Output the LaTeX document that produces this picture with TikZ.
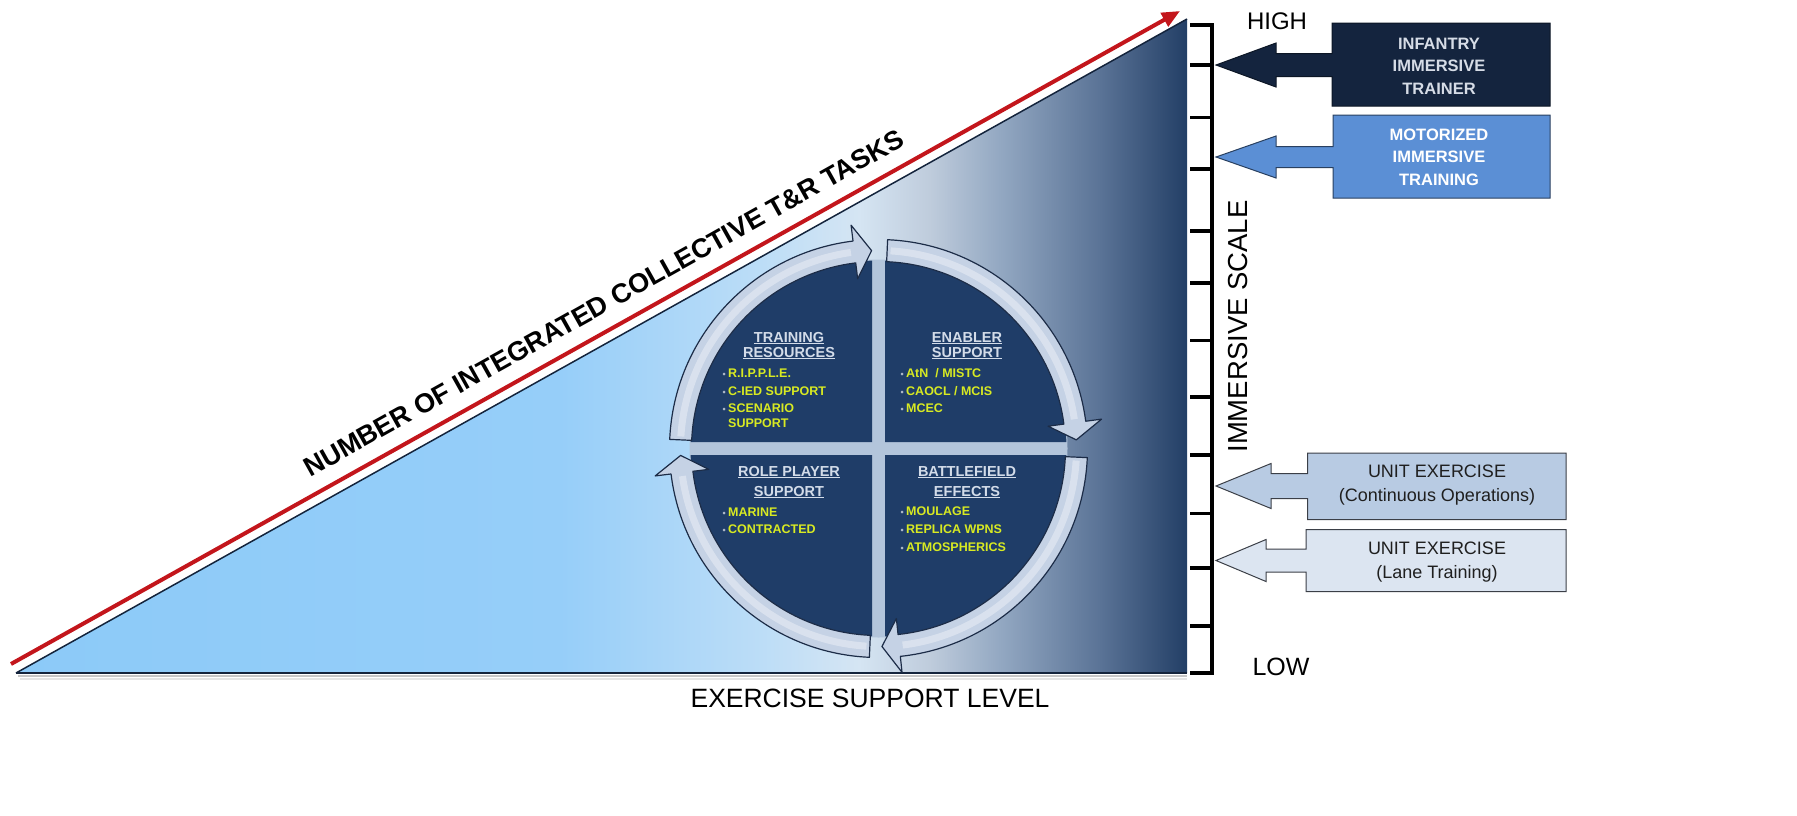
\documentclass[tikz,border=0pt]{standalone}
\usepackage{fontspec}
\setmainfont{Liberation Sans}
\usetikzlibrary{calc,arrows.meta}
\definecolor{triA}{HTML}{8CCAF8}
\definecolor{triB}{HTML}{96CEF9}
\definecolor{triC}{HTML}{BCDDF7}
\definecolor{triD}{HTML}{D5E5F3}
\definecolor{triE}{HTML}{BFCCDC}
\definecolor{triF}{HTML}{93A8C2}
\definecolor{triG}{HTML}{5A7396}
\definecolor{triH}{HTML}{233F66}
\definecolor{edgec}{HTML}{14243C}
\definecolor{redc}{HTML}{C3161C}
\definecolor{gapc}{HTML}{B3C5DB}
\definecolor{quadc}{HTML}{1F3D68}
\definecolor{bandc}{HTML}{C5D2E5}
\definecolor{bandline}{HTML}{1C2C47}
\definecolor{headc}{HTML}{D3DCE9}
\definecolor{itemc}{HTML}{D8EA22}
\definecolor{dotc}{HTML}{AEB8C8}
\definecolor{infc}{HTML}{14243E}
\definecolor{motc}{HTML}{5B8FD5}
\definecolor{contc}{HTML}{B8CBE3}
\definecolor{lanec}{HTML}{DCE5F1}
\definecolor{boxline}{HTML}{3B3F47}
\definecolor{infT}{HTML}{D6DCE6}
\pgfdeclarehorizontalshading{trishade}{100bp}{color(0bp)=(triA); color(25bp)=(triA); color(48.2bp)=(triB); color(56.8bp)=(triC); color(61bp)=(triD); color(64bp)=(triE); color(67bp)=(triF); color(71.3bp)=(triG); color(75bp)=(triH); color(100bp)=(triH)}
\newcommand\hul[1]{\setbox0=\hbox{#1}\rlap{\rule[-2.3pt]{\wd0}{1.1pt}}\box0}
\newcommand\qb{\llap{\textcolor{dotc}{\fontsize{9}{9}\selectfont\textbullet}\hspace{2.5pt}}}
\newcommand\cband[3]{%
  \filldraw[bandsty] ($(C)+(#1:209)$) arc[start angle=#1, end angle=#2, radius=209]
    -- ($(C)+(#2:225)$) -- ($(C)+(#3:198)$) -- ($(C)+(#2:171)$) -- ($(C)+(#2:187)$)
    arc[start angle=#2, end angle=#1, radius=187] -- cycle;
  \draw[white, opacity=0.35, line width=7pt] ($(C)+(#1-1:198)$) arc[start angle=#1-1, end angle=#2+1, radius=198];
}
\tikzset{
  bandsty/.style={fill=bandc, draw=bandline, line width=1.2pt, line join=round},
  qhead/.style={font=\fontsize{14.5}{14.5}\bfseries\selectfont, text=headc, inner sep=0pt, anchor=base},
  qitem/.style={font=\fontsize{12.5}{12.5}\bfseries\selectfont, text=itemc, inner sep=0pt, anchor=base west},
  boxW/.style={font=\fontsize{16.5}{22.5}\bfseries\selectfont, align=center, inner sep=0pt},
  boxD/.style={font=\fontsize{18}{23.3}\selectfont, text=black!88, align=center, inner sep=0pt},
  axlab/.style={inner sep=0pt, text=black},
  fatbox/.style={line width=1pt, line join=miter},
}
\begin{document}
\begin{tikzpicture}[x=1pt,y=1pt]
\useasboundingbox (0,0) rectangle (1797,-815);
% triangle
\coordinate (tA) at (16,-673);
\coordinate (tB) at (1187,-19);
\coordinate (tC) at (1187,-673);
\draw[black!22, line width=2pt] (18,-676) -- (1187,-676);
\draw[black!10, line width=2pt] (20,-678.5) -- (1187,-678.5);
\shade[shading=trishade] (tA) -- (tB) -- (tC) -- cycle;
\draw[edgec, line width=1.5pt] (tA) -- (tB);
\draw[edgec, line width=1.5pt] (tA) -- (tC);
% red arrow
\coordinate (rS) at (11,-664);
\coordinate (rE) at (1180,-11);
\draw[redc, line width=4pt, -{Triangle[length=18pt,width=15pt]}] (rS) -- (rE);
\node[anchor=base west, rotate=29.18, font=\fontsize{27}{27}\bfseries\selectfont, inner sep=0pt] (title) at (310,-478) {NUMBER OF INTEGRATED COLLECTIVE T\&R TASKS};
% circle
\coordinate (C) at (878.5,-448.5);
\fill[gapc] (C) circle[radius=189];
\fill[quadc] ($(C)+(-6.5,6.5)$) -- ($(C)+(91.98:188)$) arc[start angle=91.98, end angle=178.02, radius=188] -- cycle;
\fill[quadc] ($(C)+(6.5,6.5)$) -- ($(C)+(88.02:188)$) arc[start angle=88.02, end angle=1.98, radius=188] -- cycle;
\fill[quadc] ($(C)+(6.5,-6.5)$) -- ($(C)+(-1.98:188)$) arc[start angle=-1.98, end angle=-88.02, radius=188] -- cycle;
\fill[quadc] ($(C)+(-6.5,-6.5)$) -- ($(C)+(-91.98:188)$) arc[start angle=-91.98, end angle=-178.02, radius=188] -- cycle;
\cband{177.5}{97}{92}
\cband{87.5}{7.5}{2.5}
\cband{-2.5}{-84}{-89}
\cband{-92.5}{-173}{-178}
% quadrant texts
\node[qhead] (tlh1) at (789,-342) {\hul{TRAINING}};
\node[qhead] (tlh2) at (789,-357) {\hul{RESOURCES}};
\node[qitem] (tli1) at (728,-377.5) {\qb R.I.P.P.L.E.};
\node[qitem] (tli2) at (728,-395) {\qb C-IED SUPPORT};
\node[qitem] (tli3) at (728,-412.5) {\qb SCENARIO};
\node[qitem] (tli4) at (728,-427) {SUPPORT};
\node[qhead] (trh1) at (967,-342) {\hul{ENABLER}};
\node[qhead] (trh2) at (967,-357) {\hul{SUPPORT}};
\node[qitem] (tri1) at (906,-377.5) {\qb AtN~~/ MISTC};
\node[qitem] (tri2) at (906,-395.5) {\qb CAOCL / MCIS};
\node[qitem] (tri3) at (906,-412.5) {\qb MCEC};
\node[qhead] (blh1) at (789,-476) {\hul{ROLE PLAYER}};
\node[qhead] (blh2) at (789,-496) {\hul{SUPPORT}};
\node[qitem] (bli1) at (728,-516) {\qb MARINE};
\node[qitem] (bli2) at (728,-533.5) {\qb CONTRACTED};
\node[qhead] (brh1) at (967,-476) {\hul{BATTLEFIELD}};
\node[qhead] (brh2) at (967,-496) {\hul{EFFECTS}};
\node[qitem] (bri1) at (906,-515.5) {\qb MOULAGE};
\node[qitem] (bri2) at (906,-533.5) {\qb REPLICA WPNS};
\node[qitem] (bri3) at (906,-551.5) {\qb ATMOSPHERICS};
% axis
\draw[black, line width=3.8pt, line join=miter] (1190,-25) -- (1212,-25) -- (1212,-673) -- (1190,-673);
\foreach \ty in {65,117.5,169,231,283,340.5,397,455,513.5,568,626}
  \draw[black, line width=3.8pt] (1190,-\ty) -- (1212,-\ty);
\node[axlab, font=\fontsize{24}{24}\selectfont] (high) at (1277,-21) {HIGH};
\node[axlab, font=\fontsize{25}{25}\selectfont] (low) at (1281,-667) {LOW};
\node[axlab, font=\fontsize{27.5}{27.5}\selectfont, rotate=90] (imm) at (1238,-326.5) {IMMERSIVE SCALE};
\node[axlab, font=\fontsize{26.5}{26.5}\selectfont] (esl) at (870,-698.5) {EXERCISE SUPPORT LEVEL};
% right boxes
\coordinate (infTip) at (1216,-65);
\coordinate (motTip) at (1216,-157);
\coordinate (contTip) at (1216,-486);
\coordinate (laneTip) at (1216,-560.5);
\filldraw[fatbox, fill=infc, draw=infc!60!black] (1550,-23) -- (1332,-23) -- (1332,-53.5) -- (1276,-53.5) -- (1276,-43) -- (infTip) -- (1276,-87) -- (1276,-76.5) -- (1332,-76.5) -- (1332,-106) -- (1550,-106) -- cycle;
\filldraw[fatbox, fill=motc, draw=motc!45!black] (1550,-115) -- (1333,-115) -- (1333,-146.5) -- (1276,-146.5) -- (1276,-136) -- (motTip) -- (1276,-178) -- (1276,-167.5) -- (1333,-167.5) -- (1333,-198) -- (1550,-198) -- cycle;
\filldraw[fatbox, fill=contc, draw=boxline] (1566,-453) -- (1307.5,-453) -- (1307.5,-473.5) -- (1271,-473.5) -- (1271,-463.5) -- (contTip) -- (1271,-508.5) -- (1271,-498.5) -- (1307.5,-498.5) -- (1307.5,-519.5) -- (1566,-519.5) -- cycle;
\filldraw[fatbox, fill=lanec, draw=boxline] (1566,-529.5) -- (1306,-529.5) -- (1306,-549) -- (1266,-549) -- (1266,-539.5) -- (laneTip) -- (1266,-581.5) -- (1266,-572) -- (1306,-572) -- (1306,-591.5) -- (1566,-591.5) -- cycle;
\node[boxW, text=infT] (infBox) at (1439,-66) {INFANTRY\\IMMERSIVE\\TRAINER};
\node[boxW, text=white] (motBox) at (1439,-157) {MOTORIZED\\IMMERSIVE\\TRAINING};
\node[boxD] (contBox) at (1437,-485) {UNIT EXERCISE\\(Continuous Operations)};
\node[boxD] (laneBox) at (1437,-562) {UNIT EXERCISE\\(Lane Training)};
\end{tikzpicture}
\end{document}
